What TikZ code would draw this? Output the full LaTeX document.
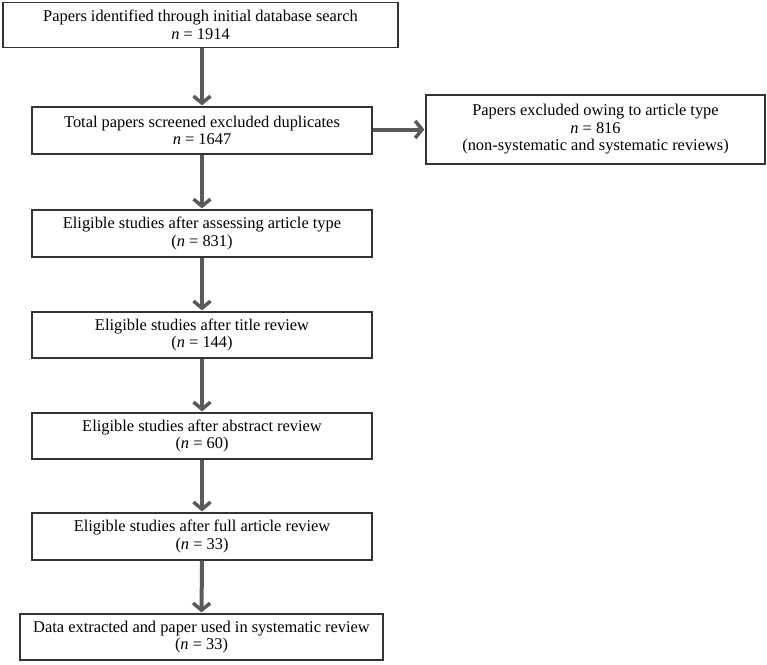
\documentclass[tikz,border=0pt]{standalone}
\usepackage{fontspec}
\setmainfont{Liberation Serif}
\usetikzlibrary{arrows.meta}
\definecolor{boxline}{HTML}{333333}
\definecolor{arrowgray}{HTML}{5A5A5A}
\tikzset{
  flowbox/.style={draw=boxline, line width=1.2pt, fill=white, align=center,
    inner sep=0pt, font=\fontsize{16.4}{17.5}\selectfont},
  flowarrow/.style={draw=arrowgray, line width=4pt,
    -{Straight Barb[length=7pt,width=17pt,line width=3.5pt]}, shorten >=1pt}
}
\begin{document}
\begin{tikzpicture}[x=1pt,y=-1pt]
\useasboundingbox (0,0) rectangle (767,664);
\node[flowbox, minimum width=395pt, minimum height=45pt] (b1) at (200.5,25)
  {Papers identified through initial database search\\\textit{n} = 1914};
\node[flowbox, minimum width=340pt, minimum height=47pt] (b2) at (202,130.5)
  {Total papers screened excluded duplicates\\\textit{n} = 1647};
\node[flowbox, minimum width=339pt, minimum height=69pt] (bx) at (595.5,129.5)
  {Papers excluded owing to article type\\\textit{n} = 816\\(non-systematic and systematic reviews)};
\node[flowbox, minimum width=340pt, minimum height=47pt] (b3) at (202,233.5)
  {Eligible studies after assessing article type\\(\textit{n} = 831)};
\node[flowbox, minimum width=340pt, minimum height=46pt] (b4) at (202,335)
  {Eligible studies after title review\\(\textit{n} = 144)};
\node[flowbox, minimum width=340pt, minimum height=46pt] (b5) at (202,436)
  {Eligible studies after abstract review\\(\textit{n} = 60)};
\node[flowbox, minimum width=340pt, minimum height=47pt] (b6) at (202,536.5)
  {Eligible studies after full article review\\(\textit{n} = 33)};
\node[flowbox, minimum width=363pt, minimum height=46pt] (b7) at (201.5,637)
  {Data extracted and paper used in systematic review\\(\textit{n} = 33)};
\draw[flowarrow] (b1.south -| b2.north) -- (b2.north);
\draw[flowarrow] (b2.east |- bx.west) -- (bx.west);
\draw[flowarrow] (b2.south) -- (b3.north);
\draw[flowarrow] (b3.south) -- (b4.north);
\draw[flowarrow] (b4.south) -- (b5.north);
\draw[flowarrow] (b5.south) -- (b6.north);
\draw[flowarrow] (b6.south) -- (b7.north);
\end{tikzpicture}
\end{document}
